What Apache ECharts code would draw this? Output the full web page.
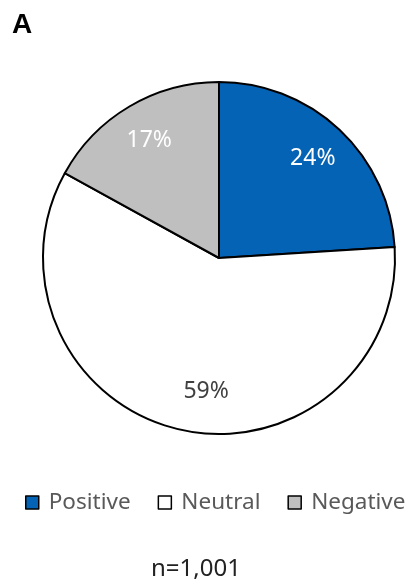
<!DOCTYPE html>
<html>
<head>
<meta charset="utf-8">
<script src="https://cdn.jsdelivr.net/npm/echarts@6/dist/echarts.min.js"></script>
<style>
html,body{margin:0;padding:0;background:#fff;}
#c{width:415px;height:581px;}
</style>
</head>
<body>
<div id="c"></div>
<script>
const categories = ['Positive', 'Neutral', 'Negative'];
const values = [24, 59, 17];
const panelLabel = 'A';
const sampleNote = 'n=1,001';

const colors = ['#0563B5', '#FFFFFF', '#BFBFBF'];
const labelColors = ['#FFFFFF', '#404040', '#FFFFFF'];
const labelOffsets = [[0, 0], [17, 0], [0, 0]];
const FONT = '"Noto Sans", "Open Sans", sans-serif';

const chart = echarts.init(document.getElementById('c'), null, {renderer: 'canvas'});

const baseData = categories.map((n, i) => ({
  name: n, value: values[i],
  itemStyle: {color: colors[i], borderColor: '#000', borderWidth: 2}
}));
const labelData = categories.map((n, i) => ({
  name: n, value: values[i],
  label: {color: labelColors[i], offset: labelOffsets[i]}
}));

chart.setOption({
  animation: false,
  title: [
    {text: panelLabel, left: 7, top: 6,
     textStyle: {fontFamily: '"Liberation Sans", Arial, sans-serif', fontWeight: 'bold', fontSize: 28, color: '#000'}},
    {text: sampleNote, left: 146, top: 552,
     textStyle: {fontFamily: FONT, fontWeight: 'normal', fontSize: 24, color: '#222'}}
  ],
  legend: {
    left: 20, top: 486, width: 410, padding: 5,
    itemWidth: 13, itemHeight: 13, itemGap: 27,
    icon: 'rect',
    textStyle: {fontFamily: FONT, fontSize: 22.5, color: '#595959', padding: [0, 0, 0, 5]},
    data: categories.map((n, i) => ({
      name: n, itemStyle: {color: colors[i], borderColor: '#000', borderWidth: 1.5}
    }))
  },
  series: [
    {
      type: 'pie', center: [219, 258], radius: [0, 176],
      startAngle: 90, clockwise: true,
      label: {show: false}, labelLine: {show: false},
      emphasis: {disabled: true}, silent: true,
      data: baseData
    },
    {
      type: 'pie', center: [219, 258], radius: [92, 176],
      startAngle: 90, clockwise: true,
      itemStyle: {color: 'rgba(0,0,0,0)', borderWidth: 0},
      label: {show: true, position: 'inside', formatter: '{c}%',
              fontFamily: FONT, fontSize: 23},
      labelLine: {show: false},
      emphasis: {disabled: true}, silent: true,
      data: labelData
    }
  ]
});
</script>
</body>
</html>
